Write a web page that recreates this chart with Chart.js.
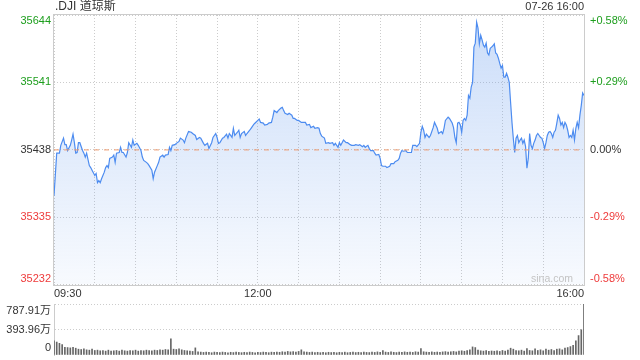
<!DOCTYPE html>
<html><head><meta charset="utf-8">
<script src="https://cdn.jsdelivr.net/npm/chart.js@4/dist/chart.umd.min.js"></script>
<style>
html,body{margin:0;padding:0;background:#fff;width:640px;height:360px;overflow:hidden}
#c1{position:absolute;left:0;top:0}
#c2{position:absolute;left:0;top:296px}
</style></head><body>
<canvas id="c1" width="640" height="304"></canvas>
<canvas id="c2" width="640" height="64"></canvas>
<script>
// ---------- data ----------
const titleText = '.DJI 道琼斯';
const dateText = '07-26 16:00';
const watermark = 'sina.com';
const prevClose = 35438;

// minutes since 09:30
const minutes = [
0,2,4,5,7,8,9,10,12,13,
14,15,16,17,18,19,21,22,23,24,
26,27,28,30,31,32,33,34,35,37,
38,39,40,41,43,44,45,46,48,49,
50,51,53,54,55,57,58,59,61,62,
64,65,66,68,69,70,72,73,74,76,
77,78,80,81,82,84,85,86,87,89,
90,92,93,95,96,97,99,101,102,104,
105,107,108,110,111,113,114,116,117,119,
120,121,122,124,125,127,128,129,131,132,
133,135,136,137,138,140,141,142,144,145,
147,148,150,151,152,154,155,157,158,160,
161,162,164,165,167,168,169,170,172,173,
175,176,177,179,180,182,183,185,186,188,
189,191,192,194,195,196,197,199,200,202,
203,205,206,207,209,210,211,212,213,215,
216,218,219,221,222,224,225,227,228,229,
231,232,233,235,236,237,239,240,241,242,
244,245,247,248,250,251,253,254,255,256,
257,259,260,261,263,264,266,267,269,270,
271,272,273,274,276,277,279,280,282,283,
285,286,287,288,290,291,293,294,295,296,
297,298,299,300,301,302,303,304,305,306,
307,308,309,310,311,312,313,314,315,316,
317,318,319,320,321,322,323,324,325,326,
327,328,329,330,331,332,333,334,335,336,
337,338,339,340,341,342,343,344,345,346,
347,348,349,350,351,352,353,354,355,356,
357,358,359,360,361,362,363,364,365,366,
367,368,369,370,371,372,373,374,375,376,
377,378,379,380,381,382,383,384,385,386,
387,388,389,390
];
const prices = [
35368,35433,35433,35445,35456,35446,35446,35437,35445,35453,
35462,35449,35433,35434,35449,35449,35437,35433,35427,35433,
35414,35411,35407,35399,35402,35388,35391,35388,35394,35404,
35411,35414,35411,35425,35427,35430,35419,35433,35434,35442,
35434,35434,35427,35434,35449,35442,35453,35445,35448,35445,
35437,35427,35422,35419,35417,35414,35407,35394,35404,35414,
35419,35427,35430,35427,35430,35431,35442,35437,35445,35446,
35448,35451,35456,35453,35449,35456,35466,35465,35463,35460,
35454,35457,35456,35448,35445,35448,35440,35449,35457,35463,
35457,35448,35449,35456,35457,35462,35456,35463,35457,35471,
35460,35465,35468,35457,35463,35466,35460,35463,35468,35471,
35477,35479,35483,35485,35480,35479,35476,35477,35479,35480,
35488,35498,35495,35498,35502,35503,35498,35494,35492,35494,
35491,35486,35486,35483,35483,35480,35480,35480,35476,35477,
35472,35474,35471,35472,35471,35463,35459,35456,35448,35449,
35448,35449,35445,35448,35442,35449,35445,35449,35453,35449,
35449,35446,35445,35445,35446,35445,35446,35443,35445,35442,
35445,35440,35437,35437,35433,35430,35431,35425,35414,35413,
35413,35411,35413,35417,35417,35420,35422,35425,35433,35437,
35436,35437,35434,35434,35434,35445,35445,35443,35448,35465,
35474,35468,35457,35462,35457,35460,35472,35480,35471,35463,
35466,35463,35471,35483,35488,35486,35479,35472,35457,35449,
35479,35480,35476,35465,35483,35486,35483,35491,35521,35517,
35534,35541,35595,35601,35633,35624,35600,35613,35606,35598,
35595,35601,35586,35583,35593,35595,35597,35600,35586,35584,
35578,35570,35563,35567,35549,35549,35555,35549,35541,35510,
35480,35455,35434,35456,35460,35449,35453,35456,35448,35453,
35443,35410,35425,35463,35445,35440,35448,35453,35460,35463,
35460,35457,35456,35449,35440,35449,35460,35465,35466,35463,
35457,35465,35468,35479,35491,35486,35476,35480,35472,35480,
35476,35468,35457,35460,35457,35468,35453,35471,35480,35472,
35491,35506,35525,35521
];

const priceTicks = [35232, 35335, 35438, 35541, 35644];
const pctLabels = ['-0.58%', '-0.29%', '0.00%', '+0.29%', '+0.58%'];
const gridMinutes = [0,30,60,90,120,150,180,210,240,270,300,330,360,390];
const timeTicks = [0, 150, 390];
const timeLabels = ['09:30', '12:00', '16:00'];

// volume (万), one bar every 2 minutes from 09:30
const volStep = 2;
const volumes = [
220,200,180,160,120,115,110,120,105,90,
85,95,80,75,90,70,75,65,70,60,
75,60,65,70,60,75,65,60,70,65,
75,60,70,65,75,70,65,75,70,80,
75,85,80,250,90,85,95,80,70,65,
60,55,110,50,45,40,45,40,35,45,
40,38,45,40,35,42,38,45,40,36,
42,38,45,40,35,42,38,45,40,36,
44,40,46,42,50,45,55,48,52,45,
55,80,50,45,40,45,38,42,36,40,
35,42,38,40,35,42,38,44,36,40,
45,38,42,36,44,40,38,45,40,48,
42,70,45,40,48,42,38,45,40,48,
42,46,40,50,45,100,50,45,40,48,
42,46,40,48,52,45,50,55,48,60,
65,58,70,80,125,115,75,65,60,68,
55,62,58,65,55,70,60,75,105,90,
70,65,75,60,100,70,65,95,70,80,
65,90,75,85,70,90,95,80,105,115,
130,150,220,300,390,787.91
];
const volTicks = [0, 393.96, 787.91];
const volLabels = ['0', '393.96万', '787.91万'];

// ---------- style ----------
const GREEN = '#1d9e1d', RED = '#ee3b3b', DARK = '#333333';
const GRID = '#cccccc', FRAME = '#cccccc';
const FONT = '"Liberation Sans", Arial, "Noto Sans CJK SC", sans-serif';

const framePlugin = {
  id: 'frame',
  afterDatasetsDraw(chart) {
    const {ctx, chartArea: a} = chart;
    ctx.save();
    ctx.strokeStyle = FRAME; ctx.lineWidth = 1;
    ctx.strokeRect(Math.round(a.left) - 0.5, Math.round(a.top) - 0.5,
                   Math.round(a.right - a.left) + 1, Math.round(a.bottom - a.top) + 1);
    ctx.restore();
  }
};

const priceText = {
  id: 'priceText',
  afterDraw(chart) {
    const {ctx, chartArea: a, scales: {y}} = chart;
    ctx.save();
    ctx.textBaseline = 'middle';
    ctx.font = '11px ' + FONT;
    priceTicks.forEach((v, i) => {
      let py = y.getPixelForValue(v);
      py = Math.min(Math.max(py, a.top + 6), a.bottom - 6);
      ctx.fillStyle = v > prevClose ? GREEN : (v < prevClose ? RED : DARK);
      ctx.textAlign = 'right';
      ctx.fillText(String(v), a.left - 3, py);
      ctx.textAlign = 'left';
      ctx.fillText(pctLabels[i], a.right + 6, py);
    });
    ctx.fillStyle = DARK;
    ctx.font = '12px ' + FONT;
    ctx.textAlign = 'left';
    ctx.fillText(titleText, a.left + 1, 7);
    ctx.font = '11px ' + FONT;
    ctx.textAlign = 'right';
    ctx.fillText(dateText, a.right, 7);
    ctx.fillStyle = '#c4c4c4';
    ctx.font = '10.5px ' + FONT;
    ctx.fillText(watermark, a.right - 11, a.bottom - 6);
    ctx.restore();
  }
};

const volText = {
  id: 'volText',
  afterDraw(chart) {
    const {ctx, chartArea: a, scales: {y}} = chart;
    ctx.save();
    ctx.textBaseline = 'middle';
    ctx.font = '11px ' + FONT;
    ctx.fillStyle = DARK;
    ctx.textAlign = 'right';
    volTicks.forEach((v, i) => {
      let py = y.getPixelForValue(v);
      py = Math.min(Math.max(py, a.top + 7), a.bottom - 7);
      ctx.fillText(volLabels[i], a.left - 3, py);
    });
    ctx.restore();
  }
};

const areaGradient = (c) => {
  const {chart} = c;
  const a = chart.chartArea;
  if (!a) return 'rgba(120,165,240,0.2)';
  const g = chart.ctx.createLinearGradient(0, a.top, 0, a.bottom);
  g.addColorStop(0, 'rgba(110,160,238,0.36)');
  g.addColorStop(1, 'rgba(110,160,238,0.05)');
  return g;
};

new Chart(document.getElementById('c1'), {
  type: 'line',
  data: {
    datasets: [
      {
        data: minutes.map((m, i) => ({x: m, y: prices[i]})),
        borderColor: '#4d8cf0', borderWidth: 1.2, pointRadius: 0, tension: 0,
        fill: 'start', backgroundColor: areaGradient, order: 1
      },
      {
        data: [{x: 0, y: prevClose}, {x: 390, y: prevClose}],
        borderColor: '#ee9c70', borderWidth: 1, borderDash: [5, 5],
        pointRadius: 0, fill: false, order: 0
      }
    ]
  },
  options: {
    responsive: false, animation: false, events: [],
    layout: {padding: {left: 54, right: 56, top: 15, bottom: 0}},
    plugins: {legend: {display: false}, tooltip: {enabled: false}},
    scales: {
      x: {
        type: 'linear', min: 0, max: 390,
        afterBuildTicks: s => { s.ticks = gridMinutes.map(v => ({value: v})); },
        grid: {color: GRID, drawTicks: false},
        border: {display: false, dash: [1, 2]},
        ticks: {
          autoSkip: false, maxRotation: 0, align: 'inner', padding: 3,
          color: DARK, font: {size: 11, family: FONT},
          callback: v => { const k = timeTicks.indexOf(v); return k >= 0 ? timeLabels[k] : ''; }
        }
      },
      y: {
        min: priceTicks[0], max: priceTicks[priceTicks.length - 1],
        afterBuildTicks: s => { s.ticks = priceTicks.map(v => ({value: v})); },
        ticks: {display: false},
        grid: {color: GRID, drawTicks: false},
        border: {display: false, dash: [1, 2]}
      }
    }
  },
  plugins: [framePlugin, priceText]
});

new Chart(document.getElementById('c2'), {
  type: 'bar',
  data: {
    datasets: [{
      data: volumes.map((v, i) => ({x: i * volStep, y: v})),
      backgroundColor: '#666666', barThickness: 1
    }]
  },
  options: {
    responsive: false, animation: false, events: [],
    layout: {padding: {left: 54, right: 56, top: 8, bottom: 5}},
    plugins: {legend: {display: false}, tooltip: {enabled: false}},
    scales: {
      x: {type: 'linear', min: 0, max: 390, display: false, offset: false, grid: {offset: false}},
      y: {
        min: 0, max: volTicks[volTicks.length - 1],
        afterBuildTicks: s => { s.ticks = volTicks.map(v => ({value: v})); },
        ticks: {display: false},
        grid: {color: c => (c.tick && c.tick.value === 0) ? 'rgba(0,0,0,0)' : GRID, drawTicks: false},
        border: {display: true, color: FRAME, dash: [1, 2]}
      }
    }
  },
  plugins: [volText]
});
</script>
</body></html>
